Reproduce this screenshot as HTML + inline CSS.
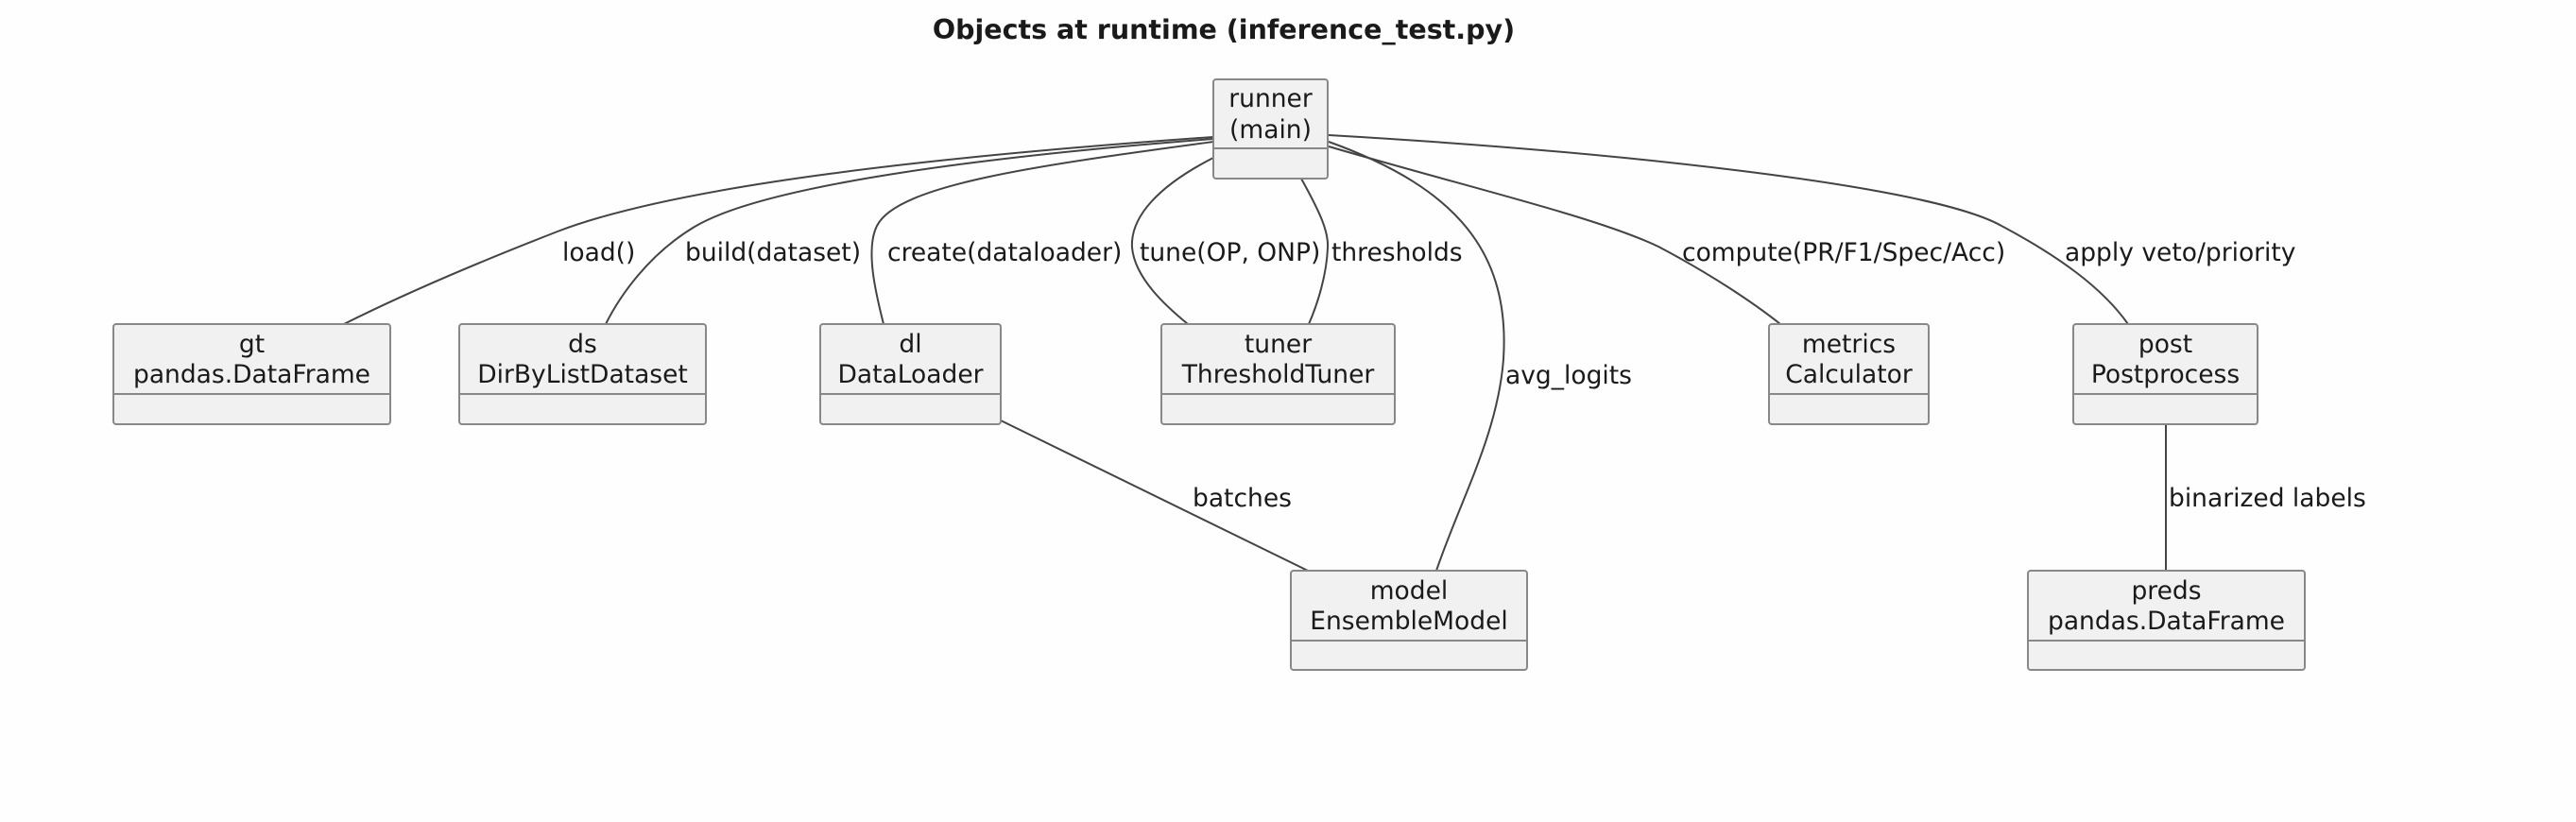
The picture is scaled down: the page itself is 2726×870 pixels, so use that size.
<!DOCTYPE html>
<html><head><meta charset="utf-8"><style>
html,body{margin:0;padding:0;background:#fff;}
svg{display:block;}
text{font-family:"DejaVu Sans","Liberation Sans",sans-serif;font-size:26.5px;fill:#1a1a1a;}
.b{fill:#f1f1f1;stroke:#888;stroke-width:2;}
.d{stroke:#888;stroke-width:2;}
.e{fill:none;stroke:#444;stroke-width:2;}
</style></head><body>
<svg width="2726" height="870" viewBox="0 0 2726 870" xmlns="http://www.w3.org/2000/svg">
<rect x="0" y="0" width="2726" height="870" fill="#fefefe"/>
<text x="1295" y="41" text-anchor="middle" style="font-weight:bold;font-size:28.5px">Objects at runtime (inference_test.py)</text>

<!-- edges -->
<path class="e" d="M1284,145 C1000,165 720,195 590,245 C500,280 420,315 364,343"/>
<path class="e" d="M1284,147 C1050,165 810,195 735,240 C685,270 655,315 641,343"/>
<path class="e" d="M1284,150 C1100,175 950,195 928,239 C915,265 928,315 935,343"/>
<path class="e" d="M1284,167 C1225,197 1196,230 1198,262 C1201,295 1235,325 1257,343"/>
<path class="e" d="M1377,189 C1397,225 1406,245 1405,262 C1404,290 1395,320 1385,343"/>
<path class="e" d="M1406,150 C1545,200 1598,270 1591,380 C1585,460 1545,530 1520,604"/>
<path class="e" d="M1406,155 C1560,200 1690,230 1755,261 C1810,290 1855,320 1884,343"/>
<path class="e" d="M1406,143 C1700,160 2040,195 2118,239 C2180,272 2225,305 2252,343"/>
<path class="e" d="M1059,445 L1384,604"/>
<path class="e" d="M2292,449 L2292,604"/>

<!-- edge labels -->
<text x="595" y="276">load()</text>
<text x="725" y="276">build(dataset)</text>
<text x="939" y="276">create(dataloader)</text>
<text x="1206" y="276">tune(OP, ONP)</text>
<text x="1409" y="276">thresholds</text>
<text x="1593" y="406">avg_logits</text>
<text x="1780" y="276">compute(PR/F1/Spec/Acc)</text>
<text x="2185" y="276">apply veto/priority</text>
<text x="1262" y="536">batches</text>
<text x="2295" y="536">binarized labels</text>

<!-- runner -->
<rect class="b" x="1284" y="84" width="121" height="105" rx="3"/>
<line class="d" x1="1284" y1="157" x2="1405" y2="157"/>
<text x="1344.5" y="113" text-anchor="middle">runner</text>
<text x="1344.5" y="146" text-anchor="middle">(main)</text>

<!-- row 2 -->
<rect class="b" x="120" y="343" width="293" height="106" rx="3"/>
<line class="d" x1="120" y1="417" x2="413" y2="417"/>
<text x="266.5" y="373" text-anchor="middle">gt</text>
<text x="266.5" y="405" text-anchor="middle">pandas.DataFrame</text>

<rect class="b" x="486" y="343" width="261" height="106" rx="3"/>
<line class="d" x1="486" y1="417" x2="747" y2="417"/>
<text x="616.5" y="373" text-anchor="middle">ds</text>
<text x="616.5" y="405" text-anchor="middle">DirByListDataset</text>

<rect class="b" x="868" y="343" width="191" height="106" rx="3"/>
<line class="d" x1="868" y1="417" x2="1059" y2="417"/>
<text x="963.5" y="373" text-anchor="middle">dl</text>
<text x="963.5" y="405" text-anchor="middle">DataLoader</text>

<rect class="b" x="1229" y="343" width="247" height="106" rx="3"/>
<line class="d" x1="1229" y1="417" x2="1476" y2="417"/>
<text x="1352.5" y="373" text-anchor="middle">tuner</text>
<text x="1352.5" y="405" text-anchor="middle">ThresholdTuner</text>

<rect class="b" x="1872" y="343" width="169" height="106" rx="3"/>
<line class="d" x1="1872" y1="417" x2="2041" y2="417"/>
<text x="1956.5" y="373" text-anchor="middle">metrics</text>
<text x="1956.5" y="405" text-anchor="middle">Calculator</text>

<rect class="b" x="2194" y="343" width="195" height="106" rx="3"/>
<line class="d" x1="2194" y1="417" x2="2389" y2="417"/>
<text x="2291.5" y="373" text-anchor="middle">post</text>
<text x="2291.5" y="405" text-anchor="middle">Postprocess</text>

<!-- row 3 -->
<rect class="b" x="1366" y="604" width="250" height="105" rx="3"/>
<line class="d" x1="1366" y1="678" x2="1616" y2="678"/>
<text x="1491" y="634" text-anchor="middle">model</text>
<text x="1491" y="666" text-anchor="middle">EnsembleModel</text>

<rect class="b" x="2146" y="604" width="293" height="105" rx="3"/>
<line class="d" x1="2146" y1="678" x2="2439" y2="678"/>
<text x="2292.5" y="634" text-anchor="middle">preds</text>
<text x="2292.5" y="666" text-anchor="middle">pandas.DataFrame</text>
</svg>
</body></html>
